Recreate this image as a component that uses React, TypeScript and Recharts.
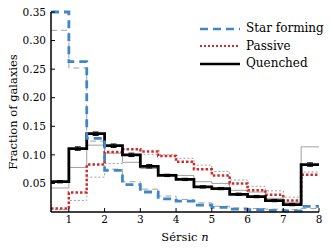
import {
  ComposedChart,
  Line,
  Scatter,
  ErrorBar,
  XAxis,
  YAxis,
  Legend,
  Label,
} from "recharts";

const binEdges = [0.5, 1, 1.5, 2, 2.5, 3, 3.5, 4, 4.5, 5, 5.5, 6, 6.5, 7, 7.5, 8];

const starForming = [0.35, 0.263, 0.129, 0.073, 0.048, 0.035, 0.023, 0.019, 0.012, 0.008, 0.005, 0.004, 0.003, 0.002, 0.01];
const passive = [0.006, 0.034, 0.083, 0.105, 0.11, 0.106, 0.098, 0.088, 0.075, 0.064, 0.05, 0.038, 0.03, 0.02, 0.065];
const quenched = [0.053, 0.111, 0.137, 0.116, 0.1, 0.08, 0.064, 0.057, 0.044, 0.041, 0.031, 0.027, 0.02, 0.013, 0.083];
const quenchedErr = [0.002, 0.003, 0.003, 0.003, 0.003, 0.003, 0.002, 0.002, 0.002, 0.002, 0.002, 0.002, 0.002, 0.002, 0.003];

// thin grey comparison histograms
const starFormingRef = [0.318, 0.252, 0.124, 0.075, 0.053, 0.04, 0.028, 0.022, 0.016, 0.01, 0.007, 0.006, 0.005, 0.004, 0.006];
const passiveRef = [0.004, 0.02, 0.061, 0.085, 0.1, 0.101, 0.1, 0.094, 0.082, 0.071, 0.056, 0.045, 0.037, 0.026, 0.07];
const quenchedRef = [0.042, 0.078, 0.117, 0.103, 0.087, 0.076, 0.066, 0.064, 0.053, 0.05, 0.038, 0.035, 0.024, 0.017, 0.114];

const xTicks = [1, 2, 3, 4, 5, 6, 7, 8];
const yTicks = [0.05, 0.1, 0.15, 0.2, 0.25, 0.3, 0.35];

const FONT = '"DejaVu Serif", serif';
const BLUE = "#3f87c6";
const RED = "#d02c2c";
const GREY = "#a0a0a0";

// step histogram: each edge carries the value of the bin to its right
const rows = binEdges.map((x, i) => {
  const k = Math.min(i, starForming.length - 1);
  return {
    x,
    sf: starForming[k],
    pas: passive[k],
    q: quenched[k],
    sfRef: starFormingRef[k],
    pasRef: passiveRef[k],
    qRef: quenchedRef[k],
  };
});

const errRows = quenched.map((y, i) => ({
  x: (binEdges[i] + binEdges[i + 1]) / 2,
  y,
  err: quenchedErr[i],
}));

const xMinor: number[] = [];
for (let i = 6; i < 80; i += 2) if (i % 10 !== 0) xMinor.push(i / 10);
const yMinor: number[] = [];
for (let i = 1; i < 35; i++) if (i % 5 !== 0) yMinor.push(i / 100);

const legendItems = [
  { name: "Star forming", color: BLUE, dash: "8 5", width: 2.5 },
  { name: "Passive", color: RED, dash: "2 2", width: 2 },
  { name: "Quenched", color: "#000", dash: undefined, width: 2.5 },
];

const tickStyle = { fontFamily: FONT, fontSize: 10.5, fill: "#000" };
const axisStroke = { stroke: "#000", strokeWidth: 1.5 };

function LegendBox() {
  return (
    <div style={{ fontFamily: FONT, fontSize: 12, color: "#000", lineHeight: "17.5px" }}>
      {legendItems.map((it) => (
        <div key={it.name} style={{ display: "flex", alignItems: "center", height: 17.5 }}>
          <svg width={44} height={10}>
            <line x1={2} x2={42} y1={5} y2={5} stroke={it.color} strokeWidth={it.width} strokeDasharray={it.dash} />
          </svg>
          <span style={{ marginLeft: 4, whiteSpace: "nowrap" }}>{it.name}</span>
        </div>
      ))}
    </div>
  );
}

export default function App() {
  return (
    <div style={{ position: "absolute", left: 0, top: 0, background: "#fff" }}>
      <ComposedChart width={331} height={250} data={rows} margin={{ top: 12, right: 12, left: 0, bottom: 0 }}>
        <XAxis xAxisId="bMinor" dataKey="x" type="number" domain={[0.5, 8]} ticks={xMinor} height={0} tick={false} tickSize={-2} axisLine={false} tickLine={{ stroke: "#000" }} />
        <XAxis xAxisId="main" dataKey="x" type="number" domain={[0.5, 8]} ticks={xTicks} height={38} tickSize={-4} tickMargin={8} tick={tickStyle} axisLine={axisStroke} tickLine={{ stroke: "#000" }}>
          <Label
            content={() => (
              <text x={185} y={241} textAnchor="middle" fontFamily={FONT} fontSize={11.5} fill="#000">
                Sérsic <tspan fontStyle="italic">n</tspan>
              </text>
            )}
          />
        </XAxis>
        <XAxis xAxisId="tMajor" dataKey="x" type="number" orientation="top" domain={[0.5, 8]} ticks={xTicks} height={0} tick={false} tickSize={-4} axisLine={axisStroke} tickLine={{ stroke: "#000" }} />
        <XAxis xAxisId="tMinor" dataKey="x" type="number" orientation="top" domain={[0.5, 8]} ticks={xMinor} height={0} tick={false} tickSize={-2} axisLine={false} tickLine={{ stroke: "#000" }} />

        <YAxis yAxisId="lMinor" type="number" domain={[0, 0.35]} ticks={yMinor} width={0} tick={false} tickSize={-2} axisLine={false} tickLine={{ stroke: "#000" }} />
        <YAxis yAxisId="main" type="number" domain={[0, 0.35]} ticks={yTicks} width={51} tickSize={-4} tickMargin={9} tick={tickStyle} tickFormatter={(v: number) => v.toFixed(2)} axisLine={axisStroke} tickLine={{ stroke: "#000" }}>
          <Label value="Fraction of galaxies" angle={-90} position="center" dx={-13} style={{ fontFamily: FONT, fontSize: 11.5, fill: "#000" }} />
        </YAxis>
        <YAxis yAxisId="rMajor" orientation="right" type="number" domain={[0, 0.35]} ticks={yTicks} width={0} tick={false} tickSize={-4} axisLine={axisStroke} tickLine={{ stroke: "#000" }} />
        <YAxis yAxisId="rMinor" orientation="right" type="number" domain={[0, 0.35]} ticks={yMinor} width={0} tick={false} tickSize={-2} axisLine={false} tickLine={{ stroke: "#000" }} />

        <Line xAxisId="main" yAxisId="main" type="stepAfter" dataKey="qRef" stroke={GREY} strokeWidth={1} dot={false} isAnimationActive={false} legendType="none" />
        <Line xAxisId="main" yAxisId="main" type="stepAfter" dataKey="pasRef" stroke={GREY} strokeWidth={1} strokeDasharray="2 2" dot={false} isAnimationActive={false} legendType="none" />
        <Line xAxisId="main" yAxisId="main" type="stepAfter" dataKey="sfRef" stroke={GREY} strokeWidth={1} strokeDasharray="6 4" dot={false} isAnimationActive={false} legendType="none" />

        <Line xAxisId="main" yAxisId="main" type="stepAfter" dataKey="pas" name="Passive" stroke={RED} strokeWidth={2.5} strokeDasharray="2.5 2" dot={false} isAnimationActive={false} />
        <Line xAxisId="main" yAxisId="main" type="stepAfter" dataKey="q" name="Quenched" stroke="#000" strokeWidth={2.8} dot={false} isAnimationActive={false} />
        <Line xAxisId="main" yAxisId="main" type="stepAfter" dataKey="sf" name="Star forming" stroke={BLUE} strokeWidth={2.8} strokeDasharray="8 5" dot={false} isAnimationActive={false} />

        <Scatter xAxisId="main" yAxisId="main" data={errRows} dataKey="y" shape={() => <g />} isAnimationActive={false} legendType="none">
          <ErrorBar dataKey="err" direction="y" width={3} stroke="#000" strokeWidth={1} isAnimationActive={false} />
        </Scatter>

        <Legend
          layout="horizontal"
          verticalAlign="middle"
          align="center"
          content={() => <LegendBox />}
          wrapperStyle={{ position: "absolute", left: 198, top: 20, width: 133 }}
        />
      </ComposedChart>
    </div>
  );
}
